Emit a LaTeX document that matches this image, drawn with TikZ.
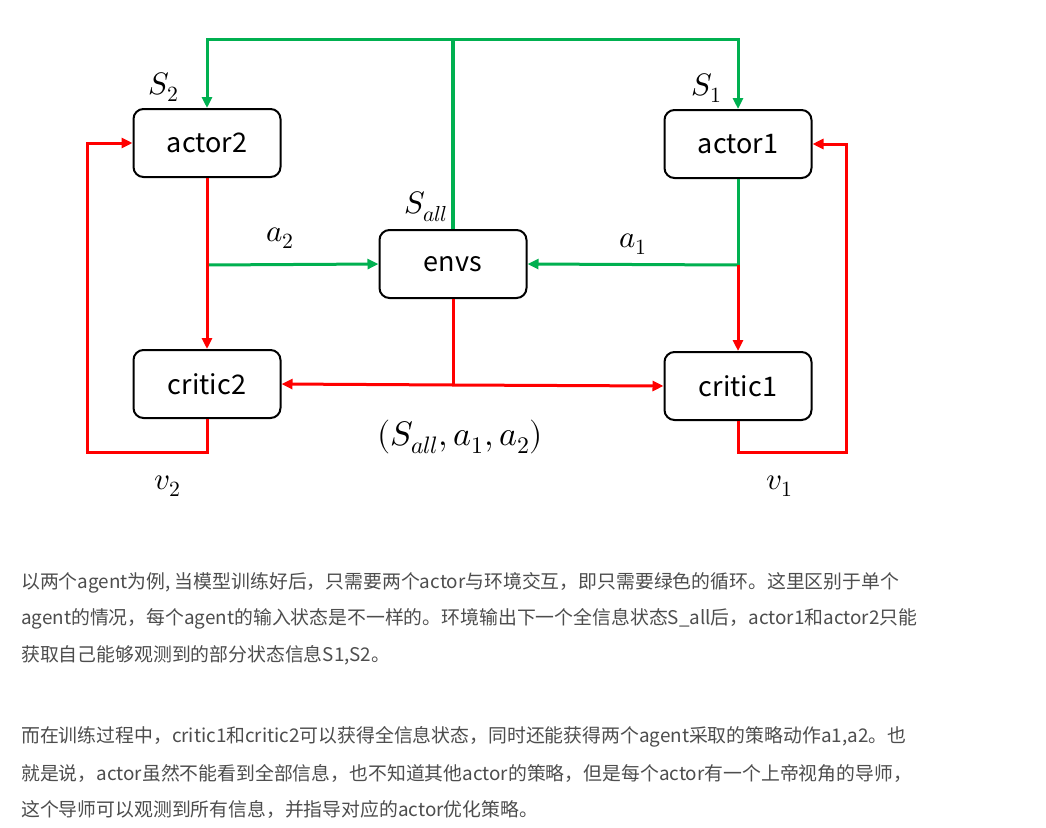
\documentclass[tikz,border=0pt]{standalone}
\usepackage{fontspec}
\usepackage{unicode-math}
\setmathfont{Latin Modern Math}
\newfontfamily\cjk{Noto Sans CJK SC}
\usetikzlibrary{arrows.meta}
\definecolor{gr}{HTML}{00B050}
\definecolor{rd}{HTML}{FF0000}
\definecolor{txt}{HTML}{4D4D4D}
\tikzset{
  box/.style={draw=black, line width=2pt, rounded corners=10pt, minimum width=147pt, minimum height=68pt, inner sep=0pt, font=\cjk\fontsize{27}{30}\selectfont},
  gline/.style={draw=gr, line width=3pt},
  rline/.style={draw=rd, line width=3pt},
  tip/.style={-{Triangle[length=11pt,width=10pt]}},
  lab/.style={inner sep=0pt, font=\fontsize{31}{35}\selectfont},
  para/.style={anchor=west, inner sep=0pt, text=txt, font=\cjk\fontsize{18.85}{22}\selectfont}
}
\begin{document}
\begin{tikzpicture}[x=1pt,y=-1pt]
\useasboundingbox[fill=white] (0,0) rectangle (1046,827);
% nodes
\node[box] (actor2) at (207,143) {actor2};
\node[box] (actor1) at (738,144) {actor1};
\node[box] (envs) at (453,264) {envs};
\node[box] (critic2) at (207,384) {critic2};
\node[box] (critic1) at (738,386) {critic1};
% junctions
\coordinate (top) at (453,39);
\coordinate (j2) at (207,265);
\coordinate (j1) at (738,265);
\coordinate (j3) at (453,385);
\coordinate (l2) at (87,452);
\coordinate (l1) at (846,452);
% green loop
\draw[gline, line width=4pt] (envs.north) -- (top);
\draw[gline, tip] (top) -| (actor2.north);
\draw[gline, tip] (top) -| (actor1.north);
\draw[gline, tip] (j2) -- (envs.west);
\draw[gline] (actor1.south) -- (j1);
\draw[gline, tip] (j1) -- (envs.east);
% red
\draw[rline, tip] (actor2.south) -- (critic2.north);
\draw[rline, tip] (j1) -- (critic1.north);
\draw[rline] (envs.south) -- (j3);
\draw[rline, tip] (j3) -- (critic2.east);
\draw[rline, tip] (j3) -- (critic1.west);
\draw[rline, tip] (critic2.south) |- (l2) |- (actor2.west);
\draw[rline, tip] (critic1.south) |- (l1) |- (actor1.east);
% labels
\node[lab] (ls2) at (164,87) {$S_2$};
\node[lab] (ls1) at (707,88) {$S_1$};
\node[lab] (lsall) at (426,207) {$S_{all}$};
\node[lab] (la2) at (280,238) {$a_2$};
\node[lab] (la1) at (633,244) {$a_1$};
\node[lab, font=\fontsize{34}{38}\selectfont] (ltuple) at (460,437) {$(S_{all},a_1,a_2)$};
\node[lab] (lv2) at (168,486) {$v_2$};
\node[lab] (lv1) at (780,486) {$v_1$};
% text
\node[para] (t1) at (21,583) {以两个agent为例, 当模型训练好后，只需要两个actor与环境交互，即只需要绿色的循环。这里区别于单个};
\node[para] (t2) at (21,619) {agent的情况，每个agent的输入状态是不一样的。环境输出下一个全信息状态S\_all后，actor1和actor2只能};
\node[para] (t3) at (21,655) {获取自己能够观测到的部分状态信息S1,S2。};
\node[para] (t4) at (21,737) {而在训练过程中，critic1和critic2可以获得全信息状态，同时还能获得两个agent采取的策略动作a1,a2。也};
\node[para] (t5) at (21,773) {就是说，actor虽然不能看到全部信息，也不知道其他actor的策略，但是每个actor有一个上帝视角的导师，};
\node[para] (t6) at (21,809) {这个导师可以观测到所有信息，并指导对应的actor优化策略。};
\end{tikzpicture}
\end{document}
